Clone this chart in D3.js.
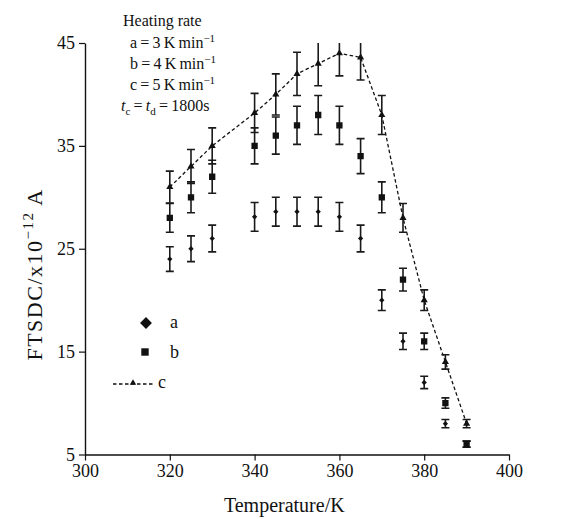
<!DOCTYPE html>
<html>
<head>
<meta charset="utf-8">
<script src="https://cdn.jsdelivr.net/npm/d3@7"></script>
<style>
  body { margin: 0; background: #fff; }
  svg text { font-family: "Liberation Serif", "DejaVu Serif", serif; fill: #111; }
</style>
</head>
<body>
<div class="vis-chart"></div>
<script>
// temperatures (K) shared by the three heating rates
var temps = [320, 325, 330, 340, 345, 350, 355, 360, 365, 370, 375, 380, 385, 390];

// FTSDC values, x10^-12 A
var seriesA = [24, 25, 26, 28.1, 28.6, 28.6, 28.6, 28.1, 26, 20, 16, 12, 8, 6];
var seriesB = [28, 30, 32, 35, 36, 37, 38, 37, 34, 30, 22, 16, 10, 6];
var seriesC = [31, 33, 35, 38.2, 40, 42, 43, 44, 43.6, 38, 28, 20, 14, 8];

// error bar half-heights
var errA = [1.2, 1.25, 1.3, 1.4, 1.4, 1.4, 1.4, 1.4, 1.3, 1.0, 0.8, 0.6, 0.4, 0.3];
var errB = [1.4, 1.5, 1.6, 1.75, 1.8, 1.85, 1.9, 1.85, 1.7, 1.5, 1.1, 0.8, 0.5, 0.3];
var errC = [1.55, 1.65, 1.75, 1.9, 2.0, 2.1, 2.15, 2.2, 2.2, 1.9, 1.4, 1.0, 0.7, 0.4];

var xTicks = [300, 320, 340, 360, 380, 400];
var yTicks = [5, 15, 25, 35, 45];

var legendLines = ["a", "b", "c"];
var rates = [3, 4, 5];

var chartWidth = 571;
var chartHeight = 519;
var margin = { top: 43, right: 62, bottom: 64.5, left: 85 };
var width = chartWidth - margin.left - margin.right;
var height = chartHeight - margin.top - margin.bottom;

var svg = d3.select(".vis-chart").append("svg")
    .attr("width", chartWidth)
    .attr("height", chartHeight);

var g = svg.append("g")
    .attr("transform", "translate(" + margin.left + "," + margin.top + ")");

var x = d3.scaleLinear().domain([300, 400]).range([0, width]);
var y = d3.scaleLinear().domain([5, 45]).range([height, 0]);

g.append("clipPath").attr("id", "plot-clip")
  .append("rect")
    .attr("x", -10).attr("y", 0)
    .attr("width", width + 20).attr("height", height + 10);

// axes
var xAxis = g.append("g")
    .attr("transform", "translate(0," + height + ")")
    .call(d3.axisBottom(x).tickValues(xTicks).tickSize(6).tickSizeOuter(0).tickPadding(4));
var yAxis = g.append("g")
    .call(d3.axisLeft(y).tickValues(yTicks).tickSize(6).tickSizeOuter(0).tickPadding(4));

[xAxis, yAxis].forEach(function(ax) {
  ax.select(".domain").attr("stroke", "#111").attr("stroke-width", 1.4);
  ax.selectAll(".tick line").attr("stroke", "#111").attr("stroke-width", 1.2);
  ax.selectAll(".tick text")
    .attr("font-size", 18)
    .attr("fill", "#111");
});

// axis titles
svg.append("text")
    .attr("x", margin.left + x(347))
    .attr("y", 512)
    .attr("text-anchor", "middle")
    .attr("font-size", 20)
    .text("Temperature/K");

var yTitle = svg.append("text")
    .attr("transform", "translate(42," + (margin.top + y(22.5)) + ") rotate(-90)")
    .attr("text-anchor", "middle")
    .attr("font-size", 22)
    .attr("letter-spacing", 1.5);
yTitle.append("tspan").text("FTSDC/x10");
yTitle.append("tspan").attr("dy", -9).attr("font-size", 15).text("\u221212");
yTitle.append("tspan").attr("dy", 9).text(" A");

var plot = g.append("g").attr("clip-path", "url(#plot-clip)");

// dashed line for series c
var line = d3.line()
    .x(function(d, i) { return x(temps[i]); })
    .y(function(d) { return y(d); });

plot.append("path")
    .datum(seriesC)
    .attr("fill", "none")
    .attr("stroke", "#111")
    .attr("stroke-width", 1.3)
    .attr("stroke-dasharray", "3.5,2.5")
    .attr("d", line);

function drawErrors(values, errs) {
  var grp = plot.append("g")
      .attr("stroke", "#1a1a1a")
      .attr("stroke-width", 1.6);
  values.forEach(function(v, i) {
    var cx = x(temps[i]);
    var y1 = y(v + errs[i]);
    var y2 = y(v - errs[i]);
    grp.append("line").attr("x1", cx).attr("x2", cx).attr("y1", y1).attr("y2", y2);
    grp.append("line").attr("x1", cx - 4).attr("x2", cx + 4).attr("y1", y1).attr("y2", y1);
    grp.append("line").attr("x1", cx - 4).attr("x2", cx + 4).attr("y1", y2).attr("y2", y2);
  });
}

drawErrors(seriesA, errA);
drawErrors(seriesB, errB);
drawErrors(seriesC, errC);

function drawMarks(values, symbol, size, rot) {
  plot.append("g").selectAll("path")
    .data(values)
    .enter().append("path")
      .attr("d", d3.symbol().type(symbol).size(size))
      .attr("transform", function(d, i) {
        return "translate(" + x(temps[i]) + "," + y(d) + ") rotate(" + rot + ")";
      })
      .attr("fill", "#111");
}

drawMarks(seriesA, d3.symbolSquare, 14, 45);
drawMarks(seriesB, d3.symbolSquare, 40, 0);
drawMarks(seriesC, d3.symbolTriangle, 22, 0);

// heating rate note
var note = svg.append("g").attr("font-size", 16);
note.append("text").attr("x", 123).attr("y", 26).text("Heating rate");
legendLines.forEach(function(k, i) {
  var t = note.append("text").attr("x", 130).attr("y", 48 + i * 21);
  t.append("tspan").text(k + "\u2009=\u2009" + rates[i] + "\u2009K\u2009min");
  t.append("tspan").attr("dy", -6).attr("font-size", 11).text("\u22121");
});
var tc = note.append("text").attr("x", 121).attr("y", 111);
tc.append("tspan").attr("font-style", "italic").text("t");
tc.append("tspan").attr("dy", 4).attr("font-size", 11).text("c");
tc.append("tspan").attr("dy", -4).text("\u2009=\u2009");
tc.append("tspan").attr("font-style", "italic").text("t");
tc.append("tspan").attr("dy", 4).attr("font-size", 11).text("d");
tc.append("tspan").attr("dy", -4).text("\u2009=\u20091800s");

// series legend
var leg = svg.append("g");
leg.append("path")
    .attr("d", d3.symbol().type(d3.symbolSquare).size(70))
    .attr("transform", "translate(146,323) rotate(45)")
    .attr("fill", "#111");
leg.append("path")
    .attr("d", d3.symbol().type(d3.symbolSquare).size(55))
    .attr("transform", "translate(145,352)")
    .attr("fill", "#111");
leg.append("line")
    .attr("x1", 113).attr("x2", 153).attr("y1", 384).attr("y2", 384)
    .attr("stroke", "#111").attr("stroke-width", 1.3)
    .attr("stroke-dasharray", "3.5,2.5");
leg.append("path")
    .attr("d", d3.symbol().type(d3.symbolTriangle).size(18))
    .attr("transform", "translate(133,383)")
    .attr("fill", "#111");
leg.selectAll("text.lab")
    .data(legendLines)
    .enter().append("text")
      .attr("class", "lab")
      .attr("x", function(d, i) { return i < 2 ? 170 : 158; })
      .attr("y", function(d, i) { return 328 + i * 30; })
      .attr("font-size", 18)
      .text(function(d) { return d; });
</script>
</body>
</html>
